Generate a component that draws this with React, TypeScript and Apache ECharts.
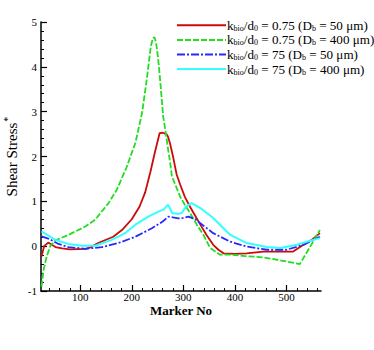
import React, { useEffect, useRef } from "react";
import * as echarts from "echarts";

const FONT = "'Liberation Serif', 'Times New Roman', serif";

const seriesNames = [
  "k_bio/d_0 = 0.75 (D_b = 50 μm)",
  "k_bio/d_0 = 0.75 (D_b = 400 μm)",
  "k_bio/d_0 = 75 (D_b = 50 μm)",
  "k_bio/d_0 = 75 (D_b = 400 μm)",
];
const legendRich = [
  "k{sub|bio}/d{sub|0} = 0.75 (D{sub|b} = 50 μm)",
  "k{sub|bio}/d{sub|0} = 0.75 (D{sub|b} = 400 μm)",
  "k{sub|bio}/d{sub|0} = 75 (D{sub|b} = 50 μm)",
  "k{sub|bio}/d{sub|0} = 75 (D{sub|b} = 400 μm)",
];

const redX = [25, 30, 38, 45, 52, 65, 80, 110, 119, 135, 164, 181, 200, 215, 226, 236, 245, 254, 260, 267, 270, 274, 280, 287, 294, 303, 313, 323, 333, 345, 358, 368, 378, 400, 423, 455, 485, 513, 533, 550, 565];
const redY = [-0.23, 0.0, 0.08, 0.03, -0.02, -0.05, -0.07, -0.06, -0.03, 0.07, 0.21, 0.36, 0.6, 0.88, 1.2, 1.65, 2.1, 2.52, 2.53, 2.5, 2.45, 2.3, 2.0, 1.6, 1.37, 1.1, 0.88, 0.68, 0.48, 0.25, 0.03, -0.08, -0.16, -0.17, -0.16, -0.12, -0.12, -0.12, 0.03, 0.15, 0.29];

const greenX = [25, 29, 35, 42, 52, 77, 110, 129, 155, 171, 190, 207, 220, 229, 237, 241, 244, 247, 251, 255, 261, 265, 270, 274, 278, 287, 294, 303, 313, 326, 339, 352, 371, 391, 420, 455, 490, 526, 565];
const greenY = [-0.9, -0.53, -0.23, 0.0, 0.13, 0.25, 0.44, 0.59, 0.96, 1.26, 1.76, 2.3, 2.97, 3.71, 4.46, 4.64, 4.66, 4.55, 4.2, 3.71, 2.89, 2.6, 2.2, 1.9, 1.55, 1.3, 1.1, 0.92, 0.74, 0.48, 0.25, -0.04, -0.19, -0.19, -0.22, -0.25, -0.32, -0.4, 0.36];

const blueX = [25, 38, 58, 77, 110, 142, 174, 207, 239, 260, 271, 280, 290, 300, 310, 323, 333, 358, 391, 423, 462, 500, 533, 565];
const blueY = [0.22, 0.17, 0.05, -0.02, -0.06, -0.02, 0.07, 0.21, 0.4, 0.55, 0.66, 0.64, 0.62, 0.63, 0.66, 0.6, 0.51, 0.29, 0.1, -0.01, -0.08, -0.08, 0.03, 0.21];

const cyanX = [25, 52, 77, 103, 129, 161, 187, 207, 232, 252, 262, 270, 274, 278, 290, 297, 305, 316, 333, 358, 391, 423, 462, 488, 520, 546, 565];
const cyanY = [0.33, 0.14, 0.05, 0.01, 0.01, 0.14, 0.29, 0.48, 0.66, 0.77, 0.82, 0.92, 0.85, 0.74, 0.72, 0.74, 0.88, 0.96, 0.85, 0.63, 0.25, 0.07, -0.02, -0.04, 0.03, 0.12, 0.18];

const xMajorTicks = [100, 200, 300, 400, 500];
const xMinorTicks = [40, 60, 80, 120, 140, 160, 180, 220, 240, 260, 280, 320, 340, 360, 380, 420, 440, 460, 480, 520, 540, 560];
const xMin = 24;
const xMax = 567;
const yMin = -1;
const yMax = 5;
const yStep = 1;

const zip = (xs: number[], ys: number[]) => xs.map((x, i) => [x, ys[i]]);

export default function App() {
  const ref = useRef<HTMLDivElement>(null);
  useEffect(() => {
    document.body.style.margin = "0";
    const chart = echarts.init(ref.current!, null, { renderer: "svg" });
    const gridTop = 22;
    const gridBottom = 59;
    const gridH = 350 - gridTop - gridBottom;
    const mkLine = (name: string, xs: number[], ys: number[], color: string, type: any, width: number) => ({
      type: "line",
      name,
      data: zip(xs, ys),
      symbol: "none",
      showSymbol: false,
      lineStyle: { color, type, width },
      itemStyle: { color },
      z: 3,
    });
    chart.setOption({
      animation: false,
      backgroundColor: "#fff",
      grid: { left: 41, right: 53, top: gridTop, bottom: gridBottom, containLabel: false, outerBoundsMode: "none" },
      legend: {
        orient: "vertical",
        left: 171,
        top: 13,
        itemWidth: 49,
        itemHeight: 1,
        itemGap: 0,
        selectedMode: false,
        data: seriesNames,
        itemStyle: { opacity: 0, borderWidth: 0 },
        formatter: (n: string) => legendRich[seriesNames.indexOf(n)],
        textStyle: {
          fontFamily: FONT,
          fontSize: 13.1,
          color: "#000",
          lineHeight: 14.6,
          padding: [0, 0, 0, -4],
          rich: {
            sub: { fontFamily: FONT, fontSize: 8, color: "#000", padding: [6, 0, 0, 0], lineHeight: 8 },
          },
        },
      },
      xAxis: [
        {
          type: "value",
          min: xMin,
          max: xMax,
          position: "bottom",
          name: "Marker No",
          nameLocation: "middle",
          nameGap: 14,
          nameMoveOverlap: false,
          nameTextStyle: { fontFamily: FONT, fontSize: 13, lineHeight: 11, fontWeight: "bold", color: "#000" },
          axisLine: { show: true, onZero: false, lineStyle: { color: "#000", width: 1.5 } },
          axisTick: { show: true, inside: true, length: 6, customValues: xMajorTicks, lineStyle: { color: "#000", width: 1.2 } },
          axisLabel: { customValues: xMajorTicks, fontFamily: FONT, fontSize: 11, lineHeight: 9, color: "#000", margin: 1 },
          splitLine: { show: false },
        },
        {
          type: "value",
          min: xMin,
          max: xMax,
          position: "top",
          offset: -gridH,
          axisLine: { show: false },
          axisTick: { show: true, inside: false, length: 3, customValues: xMinorTicks, lineStyle: { color: "#000", width: 1 } },
          axisLabel: { show: false },
          splitLine: { show: false },
        },
      ],
      yAxis: {
        type: "value",
        min: yMin,
        max: yMax,
        interval: yStep,
        name: "Shear Stress{sup|*}",
        nameLocation: "middle",
        nameGap: 22,
        nameMoveOverlap: false,
        nameTextStyle: {
          fontFamily: FONT,
          fontSize: 15,
          lineHeight: 15,
          color: "#000",
          rich: { sup: { fontFamily: FONT, fontSize: 10, color: "#000", lineHeight: 6, padding: [0, 0, 9, 1] } },
        },
        axisLine: { show: true, onZero: false, lineStyle: { color: "#000", width: 1.5 } },
        axisTick: { show: true, inside: true, length: 6, lineStyle: { color: "#000", width: 1.2 } },
        minorTick: { show: true, splitNumber: 5, length: 3, lineStyle: { color: "#000", width: 1 } },
        axisLabel: { fontFamily: FONT, fontSize: 11, color: "#000", margin: 4 },
        splitLine: { show: false },
      },
      series: [
        mkLine(seriesNames[0], redX, redY, "#cc0a0a", "solid", 1.8),
        mkLine(seriesNames[1], greenX, greenY, "#22dd22", [6, 2], 1.8),
        mkLine(seriesNames[2], blueX, blueY, "#2828ff", [8, 2, 2, 2], 1.8),
        mkLine(seriesNames[3], cyanX, cyanY, "#33ffff", "solid", 2),
      ],
    });
    return () => chart.dispose();
  }, []);
  return <div ref={ref} style={{ width: 374, height: 350 }} />;
}
